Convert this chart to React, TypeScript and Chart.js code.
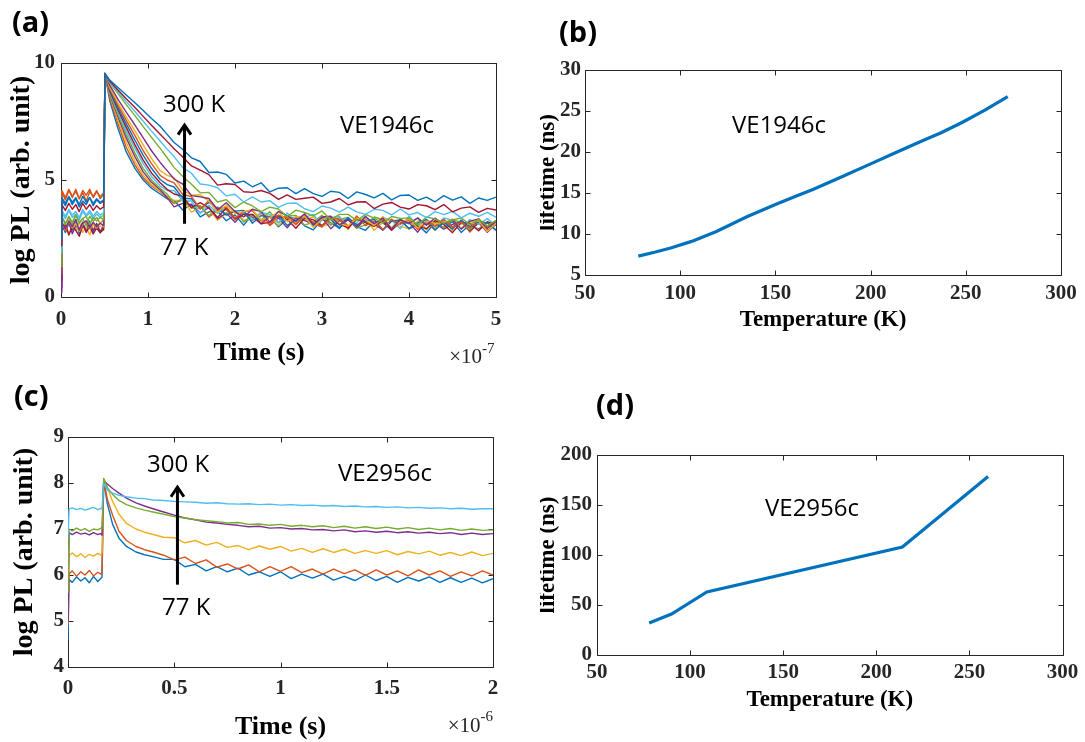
import React, { useEffect, useRef } from 'react';
import { Chart, registerables } from 'chart.js';

Chart.register(...registerables);

// ---------- colours (MATLAB default order) ----------
const BLUE = '#0072BD';
const ORANGE = '#D95319';
const YELLOW = '#EDB120';
const PURPLE = '#7E2F8E';
const GREEN = '#77AC30';
const LIGHTBLUE = '#4DBEEE';
const DARKRED = '#A2142F';
const colorOrder = [BLUE, ORANGE, YELLOW, PURPLE, GREEN, LIGHTBLUE, DARKRED];

// ---------- panel (a): time-resolved PL, VE1946c (time in units of 1e-7 s) ----------
const timeA = [0, 0.01, 0.05, 0.09, 0.13, 0.17, 0.21, 0.25, 0.29, 0.33, 0.37, 0.41, 0.45, 0.49,
  0.505, 0.56, 0.655, 0.75, 0.85, 0.945, 1.04, 1.14, 1.22,
  1.3, 1.4, 1.5, 1.6, 1.7, 1.8, 1.9, 2.0, 2.1, 2.2, 2.3, 2.4, 2.5, 2.6, 2.7, 2.8, 2.9, 3.0,
  3.1, 3.2, 3.3, 3.4, 3.5, 3.6, 3.7, 3.8, 3.9, 4.0, 4.1, 4.2, 4.3, 4.4, 4.5, 4.6, 4.7, 4.8, 4.9, 5.0];
const plA00 = [1.8, 3.2, 2.75, 3.15, 2.85, 3.3, 2.7, 3.1, 2.9, 3.25, 2.8, 3.05, 2.75, 3.1,
  9.55, 8.4, 7.2, 6.2, 5.5, 5.0, 4.65, 4.4, 4.2,
  4.12, 3.72, 3.97, 3.42, 3.64, 3.67, 3.26, 3.51, 3.07, 3.53, 3.25, 3.42, 3.0, 3.33, 3.41, 3.04, 2.87, 3.31, 3.19, 2.93, 3.32, 3.01, 2.85, 3.24, 3.18, 2.87, 3.31, 2.9, 3.09, 2.74, 3.18, 2.97, 3.22, 2.76, 3.1, 2.9, 3.19, 2.84];
const plA01 = [2.4, 4.5, 4.15, 4.55, 4.25, 4.6, 4.2, 4.45, 4.1, 4.5, 4.3, 4.55, 4.2, 4.4,
  9.55, 8.5, 7.4, 6.4, 5.65, 5.1, 4.75, 4.5, 4.25,
  4.0, 4.15, 3.8, 3.9, 3.42, 3.7, 3.74, 3.29, 3.55, 3.26, 3.63, 3.05, 3.38, 3.46, 3.09, 3.47, 3.15, 2.99, 3.37, 3.31, 2.9, 3.39, 3.23, 3.02, 3.36, 2.9, 3.24, 3.28, 2.92, 3.17, 2.86, 3.3, 3.0, 3.24, 2.78, 3.18, 3.02, 3.27];
const plA02 = [0.9, 2.8, 3.15, 2.7, 3.05, 2.85, 3.2, 2.75, 3.0, 2.65, 3.1, 2.9, 3.05, 2.85,
  9.55, 8.6, 7.55, 6.6, 5.8, 5.2, 4.8, 4.52, 4.3,
  4.13, 4.13, 3.63, 3.83, 3.8, 3.28, 3.57, 3.67, 3.28, 3.34, 3.56, 3.43, 3.06, 3.44, 3.17, 3.3, 3.43, 3.02, 3.15, 3.44, 3.03, 3.27, 3.31, 2.85, 3.19, 3.33, 3.02, 2.91, 3.25, 3.2, 2.94, 3.33, 2.83, 3.12, 3.21, 2.86, 3.15, 3.05];
const plA03 = [0.4, 3.1, 2.8, 3.2, 2.7, 3.05, 2.9, 3.2, 2.75, 3.1, 2.85, 3.15, 2.8, 3.0,
  9.55, 8.65, 7.7, 6.8, 6.0, 5.35, 4.9, 4.58, 4.25,
  3.85, 4.0, 3.95, 3.6, 3.82, 3.35, 3.59, 3.19, 3.6, 3.41, 3.13, 3.45, 3.38, 2.96, 3.39, 3.27, 3.1, 3.39, 2.92, 3.26, 3.3, 2.94, 3.33, 3.12, 2.86, 3.25, 3.14, 3.18, 2.77, 3.27, 3.16, 2.9, 3.1, 3.24, 2.83, 3.18, 2.77, 3.12];
const plA04 = [1.2, 3.45, 3.15, 3.4, 3.1, 3.5, 3.2, 3.35, 3.05, 3.45, 3.25, 3.4, 3.15, 3.3,
  9.55, 8.7, 7.8, 6.95, 6.15, 5.5, 5.0, 4.65, 4.4,
  4.0, 4.2, 3.8, 3.9, 3.47, 3.85, 3.54, 3.69, 3.2, 3.51, 3.28, 3.65, 3.18, 3.46, 3.49, 3.07, 3.2, 3.49, 3.07, 3.31, 3.4, 2.94, 3.08, 3.42, 3.31, 2.95, 3.34, 3.13, 3.37, 2.87, 3.26, 2.95, 3.3, 3.19, 2.88, 3.33, 2.97, 3.22];
const plA05 = [1.6, 3.6, 3.35, 3.7, 3.4, 3.55, 3.3, 3.65, 3.45, 3.6, 3.35, 3.55, 3.4, 3.5,
  9.55, 8.75, 7.9, 7.1, 6.35, 5.7, 5.15, 4.75, 4.55,
  4.55, 4.1, 4.1, 3.57, 3.92, 3.58, 3.82, 3.32, 3.58, 3.29, 3.61, 3.53, 3.16, 3.59, 3.22, 3.4, 3.53, 3.02, 3.4, 3.44, 3.03, 3.17, 3.46, 3.05, 3.39, 3.28, 2.92, 3.46, 3.05, 3.3, 2.99, 3.38, 3.28, 2.92, 3.31, 3.11, 3.35, 3.05];
const plA06 = [0.7, 2.8, 3.1, 2.65, 3.0, 2.85, 2.6, 3.05, 2.8, 3.0, 2.7, 2.95, 2.75, 2.9,
  9.55, 8.8, 8.0, 7.25, 6.5, 5.85, 5.3, 4.88, 4.6,
  4.4, 4.3, 3.82, 4.03, 3.81, 3.4, 3.81, 3.34, 3.53, 3.53, 3.13, 3.2, 3.48, 3.31, 2.94, 3.37, 3.3, 3.04, 3.42, 3.11, 2.95, 3.34, 3.18, 3.02, 3.26, 2.85, 3.19, 3.28, 3.02, 2.92, 3.26, 3.1, 2.75, 3.19, 3.13, 2.83, 3.22, 3.07];
const plA07 = [2.0, 4.15, 3.9, 4.25, 3.95, 4.2, 3.85, 4.1, 3.95, 4.25, 3.9, 4.15, 4.0, 4.1,
  9.55, 8.85, 8.1, 7.4, 6.7, 6.05, 5.5, 5.02, 4.8,
  4.7, 4.22, 4.2, 3.77, 4.04, 3.79, 3.5, 3.67, 3.7, 3.15, 3.48, 3.4, 3.48, 3.06, 3.29, 3.47, 3.05, 3.39, 3.32, 2.96, 3.4, 3.09, 3.23, 3.32, 2.86, 3.25, 3.29, 2.93, 3.17, 3.32, 2.86, 3.2, 2.9, 3.29, 2.98, 3.23, 3.17, 2.87];
const plA08 = [2.6, 4.55, 4.25, 4.6, 4.3, 4.5, 4.2, 4.55, 4.35, 4.6, 4.25, 4.5, 4.3, 4.45,
  9.55, 8.9, 8.2, 7.55, 6.9, 6.25, 5.7, 5.2, 5.0,
  4.88, 4.38, 4.29, 3.76, 4.12, 3.75, 3.85, 3.37, 3.65, 3.69, 3.29, 3.1, 3.5, 3.38, 3.11, 3.49, 3.17, 3.01, 3.39, 3.33, 3.02, 3.46, 3.05, 3.24, 2.88, 3.32, 3.11, 3.35, 2.89, 3.24, 3.03, 3.32, 2.97, 3.21, 2.95, 3.3, 2.84, 3.14];
const plA09 = [1.0, 3.2, 2.85, 3.25, 2.95, 3.15, 2.8, 3.1, 3.25, 2.9, 3.15, 2.95, 3.2, 3.0,
  9.55, 8.97, 8.3, 7.7, 7.1, 6.5, 5.92, 5.4, 5.2,
  5.1, 4.57, 4.35, 4.37, 4.1, 3.62, 3.92, 3.58, 3.65, 3.74, 3.29, 3.39, 3.65, 3.22, 3.42, 3.45, 2.98, 3.32, 3.45, 3.14, 3.03, 3.37, 3.31, 3.05, 3.44, 2.93, 3.22, 3.31, 2.95, 3.25, 3.14, 3.18, 3.33, 2.92, 3.21, 3.26, 2.8, 3.15];
const plA10 = [0.2, 3.2, 2.9, 3.25, 3.0, 3.3, 2.85, 3.15, 3.25, 2.95, 3.2, 3.0, 3.15, 3.05,
  9.55, 9.05, 8.45, 7.9, 7.35, 6.8, 6.25, 5.75, 5.4,
  5.04, 4.82, 4.33, 4.28, 4.21, 3.73, 4.03, 3.65, 3.42, 3.75, 3.65, 3.2, 3.66, 3.47, 3.24, 3.56, 3.09, 3.42, 3.45, 3.08, 3.31, 3.0, 3.44, 3.13, 3.37, 2.91, 3.3, 3.14, 3.38, 3.07, 3.37, 3.11, 3.3, 2.9, 3.24, 3.34, 2.93, 3.23];
const plA11 = [1.3, 3.4, 3.1, 3.45, 3.2, 3.5, 3.15, 3.35, 3.45, 3.1, 3.4, 3.25, 3.4, 3.3,
  9.55, 9.15, 8.69, 8.22, 7.75, 7.28, 6.82, 6.35, 5.95,
  5.54, 5.15, 4.82, 4.45, 4.47, 4.06, 4.16, 3.82, 4.06, 3.89, 3.65, 3.84, 3.76, 3.44, 3.71, 3.61, 3.47, 3.68, 3.3, 3.53, 3.53, 3.27, 3.53, 3.37, 3.17, 3.44, 3.36, 3.38, 3.08, 3.42, 3.34, 3.16, 3.29, 3.38, 3.09, 3.32, 3.03, 3.27];
const plA12 = [1.9, 3.7, 3.45, 3.75, 3.5, 3.65, 3.4, 3.75, 3.5, 3.7, 3.45, 3.65, 3.5, 3.6,
  9.55, 9.19, 8.77, 8.35, 7.93, 7.51, 7.09, 6.67, 6.32,
  6.0, 5.53, 5.29, 4.83, 4.78, 4.67, 4.32, 4.39, 4.06, 4.28, 4.06, 4.12, 3.83, 4.0, 4.02, 3.77, 3.65, 3.89, 3.8, 3.63, 3.84, 3.64, 3.53, 3.75, 3.7, 3.51, 3.76, 3.51, 3.61, 3.39, 3.65, 3.52, 3.66, 3.38, 3.58, 3.45, 3.62, 3.41];
const plA13 = [2.2, 3.95, 3.7, 4.0, 3.75, 3.95, 3.65, 4.0, 3.75, 3.95, 3.7, 3.9, 3.75, 3.85,
  9.55, 9.23, 8.85, 8.47, 8.1, 7.72, 7.34, 6.96, 6.65,
  6.34, 5.98, 5.6, 5.42, 5.23, 4.78, 4.84, 4.81, 4.5, 4.47, 4.55, 4.43, 4.17, 4.36, 4.17, 4.22, 4.27, 4.0, 4.06, 4.21, 3.94, 4.06, 4.07, 3.78, 3.97, 4.04, 3.84, 3.76, 3.95, 3.9, 3.73, 3.95, 3.64, 3.8, 3.85, 3.62, 3.79, 3.72];
const plA14 = [2.5, 4.25, 4.0, 4.3, 4.05, 4.25, 3.95, 4.3, 4.05, 4.25, 4.0, 4.2, 4.05, 4.15,
  9.55, 9.27, 8.95, 8.63, 8.3, 7.97, 7.63, 7.3, 6.95,
  6.6, 6.3, 5.95, 5.79, 5.32, 5.34, 5.24, 4.87, 4.95, 4.71, 4.88, 4.49, 4.65, 4.67, 4.42, 4.63, 4.42, 4.3, 4.52, 4.47, 4.21, 4.49, 4.38, 4.24, 4.43, 4.15, 4.34, 4.36, 4.13, 4.27, 4.07, 4.33, 4.14, 4.28, 4.0, 4.23, 4.13, 4.27];
const curvesA = [plA00, plA01, plA02, plA03, plA04, plA05, plA06, plA07, plA08, plA09, plA10, plA11, plA12, plA13, plA14];

// ---------- panel (b): lifetime vs temperature, VE1946c ----------
const tempB = [78, 87, 95, 106, 119, 135, 150, 160, 170, 184, 200, 213, 226, 237, 248, 260, 272];
const lifeB = [7.3, 7.8, 8.3, 9.1, 10.3, 12.1, 13.6, 14.55, 15.45, 16.9, 18.55, 19.9, 21.25, 22.35, 23.6, 25.1, 26.75];

// ---------- panel (c): time-resolved PL, VE2956c (time in units of 1e-6 s) ----------
const timeC = [0, 0.005, 0.02, 0.04, 0.06, 0.08, 0.1, 0.12, 0.14, 0.155, 0.16, 0.168,
  0.185, 0.21, 0.24, 0.275, 0.32, 0.36, 0.4, 0.45,
  0.5, 0.55, 0.6, 0.65, 0.7, 0.75, 0.8, 0.85, 0.9, 0.95, 1.0, 1.05, 1.1, 1.15, 1.2, 1.25,
  1.3, 1.35, 1.4, 1.45, 1.5, 1.55, 1.6, 1.65, 1.7, 1.75, 1.8, 1.85, 1.9, 1.95, 2.0];
const plC0 = [4.6, 5.9, 5.84, 5.96, 5.87, 5.94, 5.83, 5.97, 5.86, 5.93, 5.95, 8.05, 7.55, 7.1, 6.8, 6.62, 6.5, 6.44, 6.4, 6.34,
  6.34, 6.18, 6.23, 6.09, 6.18, 6.07, 6.15, 6.0, 6.07, 5.97, 6.07, 5.92, 6.02, 5.93, 6.02, 5.89, 5.97, 5.88, 6.0, 5.88, 5.97, 5.84, 5.95, 5.87, 5.96, 5.84, 5.94, 5.84, 5.93, 5.83, 5.92];
const plC1 = [4.9, 6.02, 6.09, 5.97, 6.07, 6.0, 6.1, 5.98, 6.06, 6.02, 6.07, 8.05, 7.65, 7.3, 6.95, 6.75, 6.62, 6.55, 6.5, 6.43,
  6.33, 6.39, 6.25, 6.33, 6.17, 6.24, 6.13, 6.22, 6.07, 6.18, 6.08, 6.18, 6.05, 6.13, 6.02, 6.13, 6.03, 6.11, 5.99, 6.11, 6.0, 6.09, 5.98, 6.11, 6.0, 6.09, 5.97, 6.07, 5.98, 6.09, 6.0];
const plC2 = [5.3, 6.42, 6.48, 6.4, 6.46, 6.38, 6.45, 6.41, 6.47, 6.43, 6.5, 8.1, 7.9, 7.6, 7.32, 7.12, 7.0, 6.93, 6.88, 6.82,
  6.81, 6.7, 6.75, 6.65, 6.71, 6.6, 6.64, 6.55, 6.63, 6.56, 6.62, 6.52, 6.58, 6.49, 6.57, 6.49, 6.56, 6.47, 6.53, 6.47, 6.53, 6.44, 6.51, 6.46, 6.52, 6.43, 6.49, 6.42, 6.5, 6.42, 6.47];
const plC3 = [5.0, 6.92, 6.88, 6.93, 6.89, 6.91, 6.87, 6.92, 6.88, 6.9, 6.86, 8.05, 7.98, 7.88, 7.78, 7.67, 7.57, 7.5, 7.44, 7.37,
  7.3, 7.24, 7.2, 7.15, 7.13, 7.1, 7.08, 7.05, 7.06, 7.02, 7.03, 7.0, 7.01, 6.98, 6.99, 6.96, 6.98, 6.94, 6.96, 6.93, 6.95, 6.92, 6.94, 6.91, 6.93, 6.9, 6.92, 6.88, 6.91, 6.88, 6.9];
const plC4 = [5.6, 7.0, 6.96, 7.02, 6.97, 7.01, 6.95, 7.0, 6.98, 7.02, 7.0, 8.1, 7.9, 7.75, 7.62, 7.53, 7.46, 7.41, 7.37, 7.32,
  7.27, 7.24, 7.2, 7.18, 7.16, 7.13, 7.14, 7.1, 7.11, 7.08, 7.1, 7.06, 7.08, 7.05, 7.07, 7.03, 7.06, 7.02, 7.05, 7.01, 7.04, 7.0, 7.03, 6.99, 7.02, 6.98, 7.01, 6.97, 7.0, 6.97, 6.98];
const plC5 = [6.8, 7.43, 7.46, 7.42, 7.45, 7.41, 7.44, 7.47, 7.42, 7.45, 7.44, 8.0, 7.85, 7.78, 7.73, 7.7, 7.67, 7.66, 7.63, 7.62,
  7.6, 7.59, 7.58, 7.56, 7.57, 7.55, 7.54, 7.55, 7.53, 7.54, 7.52, 7.53, 7.51, 7.52, 7.5, 7.51, 7.49, 7.5, 7.48, 7.49, 7.47, 7.48, 7.46, 7.47, 7.45, 7.46, 7.44, 7.45, 7.43, 7.44, 7.44];
const curvesC = [plC0, plC1, plC2, plC3, plC4, plC5];

// ---------- panel (d): lifetime vs temperature, VE2956c ----------
const tempD = [78, 90, 109, 214, 260];
const lifeD = [32, 41, 63, 108, 178.5];

// ---------- tick values ----------
const ticksAX = [0, 1, 2, 3, 4, 5];
const ticksAY = [0, 5, 10];
const ticksBX = [50, 100, 150, 200, 250, 300];
const ticksBY = [5, 10, 15, 20, 25, 30];
const ticksCX = [0, 0.5, 1, 1.5, 2];
const ticksCY = [4, 5, 6, 7, 8, 9];
const ticksDX = [50, 100, 150, 200, 250, 300];
const ticksDY = [0, 50, 100, 150, 200];

// ---------- styling ----------
const SERIF = '"Liberation Serif", "Times New Roman", Times, serif';
const SANS = '"Open Sans", "Noto Sans", sans-serif';
const AXIS = '#262626';

const toPoints = (xs: number[], ys: number[]) => xs.map((x, i) => ({ x, y: ys[i] }));

const framePlugin = {
  id: 'frame',
  beforeDatasetsDraw(chart: any, _args: any, opts: any) {
    const { ctx, chartArea: a, scales } = chart;
    const len = opts && opts.tickLen ? opts.tickLen : 5;
    const L = Math.round(a.left) + 0.5;
    const R = Math.round(a.right) + 0.5;
    const T = Math.round(a.top) + 0.5;
    const B = Math.round(a.bottom) + 0.5;
    ctx.save();
    ctx.strokeStyle = AXIS;
    ctx.lineWidth = 1;
    ctx.beginPath();
    ctx.rect(L, T, R - L, B - T);
    for (const t of scales.x.ticks) {
      const px = Math.round(scales.x.getPixelForValue(t.value)) + 0.5;
      ctx.moveTo(px, B); ctx.lineTo(px, B - len);
      ctx.moveTo(px, T); ctx.lineTo(px, T + len);
    }
    for (const t of scales.y.ticks) {
      const py = Math.round(scales.y.getPixelForValue(t.value)) + 0.5;
      ctx.moveTo(L, py); ctx.lineTo(L + len, py);
      ctx.moveTo(R, py); ctx.lineTo(R - len, py);
    }
    ctx.stroke();
    ctx.restore();
  },
};

const arrowPlugin = {
  id: 'arrow',
  afterDatasetsDraw(chart: any, _args: any, o: any) {
    if (!o || o.x === undefined) return;
    const { ctx, scales } = chart;
    const x = scales.x.getPixelForValue(o.x);
    const yb = scales.y.getPixelForValue(o.y0);
    const yt = scales.y.getPixelForValue(o.y1);
    ctx.save();
    ctx.strokeStyle = '#000';
    ctx.lineWidth = 3;
    ctx.lineJoin = 'miter';
    ctx.beginPath();
    ctx.moveTo(x, yb);
    ctx.lineTo(x, yt + 2);
    ctx.stroke();
    ctx.beginPath();
    ctx.moveTo(x - 6.5, yt + 11);
    ctx.lineTo(x, yt + 1.5);
    ctx.lineTo(x + 6.5, yt + 11);
    ctx.stroke();
    ctx.restore();
  },
};

type Spec = {
  left: number; top: number; width: number; height: number;
  padTop: number; padRight: number; yWidth: number; xHeight: number;
  xMin: number; xMax: number; xTicks: number[];
  yMin: number; yMax: number; yTicks: number[];
  xTitle: string; yTitle: string; xTitleSize: number; yTitleSize: number;
  xTitlePad: number; yTitlePad: number; xTickPad: number; yTickPad: number;
  tickSize: number; datasets: any[]; arrow?: any;
};

function Panel({ spec }: { spec: Spec }) {
  const ref = useRef<HTMLCanvasElement | null>(null);
  useEffect(() => {
    if (!ref.current) return;
    const tickFont = { family: SERIF, size: spec.tickSize, weight: 'bold', lineHeight: 1 };
    const chart = new Chart(ref.current, {
      type: 'line',
      data: { datasets: spec.datasets },
      options: {
        animation: false,
        responsive: false,
        maintainAspectRatio: false,
        devicePixelRatio: 1,
        events: [],
        layout: { padding: { top: spec.padTop, right: spec.padRight, left: 0, bottom: 0 } },
        plugins: {
          legend: { display: false },
          tooltip: { enabled: false },
          frame: { tickLen: 5 },
          arrow: spec.arrow || {},
        },
        scales: {
          x: {
            type: 'linear',
            min: spec.xMin,
            max: spec.xMax,
            afterBuildTicks: (s: any) => { s.ticks = spec.xTicks.map((v) => ({ value: v })); },
            afterFit: (s: any) => { s.height = spec.xHeight; },
            grid: { display: false, drawTicks: false },
            border: { display: false },
            ticks: {
              autoSkip: false, maxRotation: 0, minRotation: 0, padding: spec.xTickPad,
              color: AXIS, font: tickFont, callback: (v: any) => String(v),
            },
            title: {
              display: true, text: spec.xTitle, color: '#000',
              font: { family: SERIF, size: spec.xTitleSize, weight: 'bold', lineHeight: 1 },
              padding: { top: 0, bottom: spec.xTitlePad },
            },
          },
          y: {
            type: 'linear',
            min: spec.yMin,
            max: spec.yMax,
            afterBuildTicks: (s: any) => { s.ticks = spec.yTicks.map((v) => ({ value: v })); },
            afterFit: (s: any) => { s.width = spec.yWidth; },
            grid: { display: false, drawTicks: false },
            border: { display: false },
            ticks: {
              autoSkip: false, padding: spec.yTickPad,
              color: AXIS, font: tickFont, callback: (v: any) => String(v),
            },
            title: {
              display: true, text: spec.yTitle, color: '#000',
              font: { family: SERIF, size: spec.yTitleSize, weight: 'bold', lineHeight: 1 },
              padding: { top: spec.yTitlePad, bottom: 0 },
            },
          },
        },
      } as any,
      plugins: [framePlugin, arrowPlugin],
    });
    return () => chart.destroy();
  }, []);
  return (
    <canvas
      ref={ref}
      width={spec.width}
      height={spec.height}
      style={{ position: 'absolute', left: spec.left, top: spec.top, width: spec.width, height: spec.height }}
    />
  );
}

const traceDataset = (xs: number[], ys: number[], color: string, order: number, width: number) => ({
  data: toPoints(xs, ys),
  borderColor: color,
  borderWidth: width,
  borderJoinStyle: 'round',
  pointRadius: 0,
  fill: false,
  tension: 0,
  order,
});

const lineDataset = (xs: number[], ys: number[]) => ({
  data: toPoints(xs, ys),
  borderColor: BLUE,
  borderWidth: 3.2,
  pointRadius: 0,
  fill: false,
  tension: 0,
});

const specA: Spec = {
  left: 0, top: 40, width: 520, height: 330,
  padTop: 23, padRight: 24, yWidth: 61, xHeight: 73,
  xMin: 0, xMax: 5, xTicks: ticksAX, yMin: 0, yMax: 10, yTicks: ticksAY,
  xTitle: 'Time (s)      ', yTitle: 'log PL (arb. unit)', xTitleSize: 26, yTitleSize: 28,
  xTitlePad: 3.8, yTitlePad: 7.6, xTickPad: 12, yTickPad: 6, tickSize: 21,
  datasets: curvesA.map((ys, k) => traceDataset(timeA, ys, colorOrder[k % 7], curvesA.length - 1 - k, 1.4)),
  arrow: { x: 1.42, y0: 3.13, y1: 7.41 },
};

const specB: Spec = {
  left: 540, top: 40, width: 545, height: 320,
  padTop: 30, padRight: 21, yWidth: 45, xHeight: 85,
  xMin: 50, xMax: 300, xTicks: ticksBX, yMin: 5, yMax: 30, yTicks: ticksBY,
  xTitle: 'Temperature (K)', yTitle: 'lifetime (ns)', xTitleSize: 23, yTitleSize: 23,
  xTitlePad: 28.3, yTitlePad: -3.6, xTickPad: 8.2, yTickPad: 4, tickSize: 21,
  datasets: [lineDataset(tempB, lifeB)],
};

const specC: Spec = {
  left: 0, top: 420, width: 520, height: 322,
  padTop: 17, padRight: 27, yWidth: 68, xHeight: 75,
  xMin: 0, xMax: 2, xTicks: ticksCX, yMin: 4, yMax: 9, yTicks: ticksCY,
  xTitle: 'Time (s)', yTitle: 'log PL (arb. unit)', xTitleSize: 26, yTitleSize: 28,
  xTitlePad: 2.1, yTitlePad: 11.1, xTickPad: 11.4, yTickPad: 4, tickSize: 21,
  datasets: curvesC.map((ys, k) => traceDataset(timeC, ys, colorOrder[k % 7], curvesC.length - 1 - k, 1.4)),
  arrow: { x: 0.515, y0: 5.79, y1: 7.94 },
};

const specD: Spec = {
  left: 540, top: 420, width: 545, height: 322,
  padTop: 35, padRight: 20, yWidth: 57, xHeight: 87,
  xMin: 50, xMax: 300, xTicks: ticksDX, yMin: 0, yMax: 200, yTicks: ticksDY,
  xTitle: 'Temperature (K)', yTitle: 'lifetime (ns)', xTitleSize: 23, yTitleSize: 23,
  xTitlePad: 30.3, yTitlePad: -3.6, xTickPad: 6.7, yTickPad: 5, tickSize: 21,
  datasets: [lineDataset(tempD, lifeD)],
};

const panelLabels = [
  { t: '(a)', x: 12, y: 32 },
  { t: '(b)', x: 559, y: 41.5 },
  { t: '(c)', x: 14, y: 406 },
  { t: '(d)', x: 596, y: 414.5 },
];

const notes = [
  { t: '300 K', x: 163, y: 112 },
  { t: 'VE1946c', x: 340, y: 133 },
  { t: '77 K', x: 160, y: 255 },
  { t: 'VE1946c', x: 732, y: 132.7 },
  { t: '300 K', x: 147, y: 471.7 },
  { t: 'VE2956c', x: 338, y: 481 },
  { t: '77 K', x: 162, y: 615 },
  { t: 'VE2956c', x: 765, y: 515.7 },
];

const exponents = [
  { base: '×10', exp: '-7', x: 482, y: 363, ey: 353 },
  { base: '×10', exp: '-6', x: 480.5, y: 732, ey: 721 },
];

export default function App() {
  return (
    <div style={{ position: 'absolute', left: 0, top: 0, width: 1085, height: 742, background: '#fff', overflow: 'hidden' }}>
      <Panel spec={specA} />
      <Panel spec={specB} />
      <Panel spec={specC} />
      <Panel spec={specD} />
      <svg width={1085} height={742} style={{ position: 'absolute', left: 0, top: 0, pointerEvents: 'none' }}>
        {panelLabels.map((p) => (
          <text key={p.t} x={p.x} y={p.y} fontFamily={SANS} fontWeight="bold" fontSize={29} fill="#000">{p.t}</text>
        ))}
        {notes.map((n, i) => (
          <text key={i} x={n.x} y={n.y} fontFamily={SANS} fontSize={24} fill="#000">{n.t}</text>
        ))}
        {exponents.map((e, i) => (
          <g key={i}>
            <text x={e.x} y={e.y} textAnchor="end" fontFamily={SERIF} fontSize={21} fill={AXIS}>{e.base}</text>
            <text x={e.x} y={e.ey} fontFamily={SERIF} fontSize={15} fill={AXIS}>{e.exp}</text>
          </g>
        ))}
      </svg>
    </div>
  );
}
